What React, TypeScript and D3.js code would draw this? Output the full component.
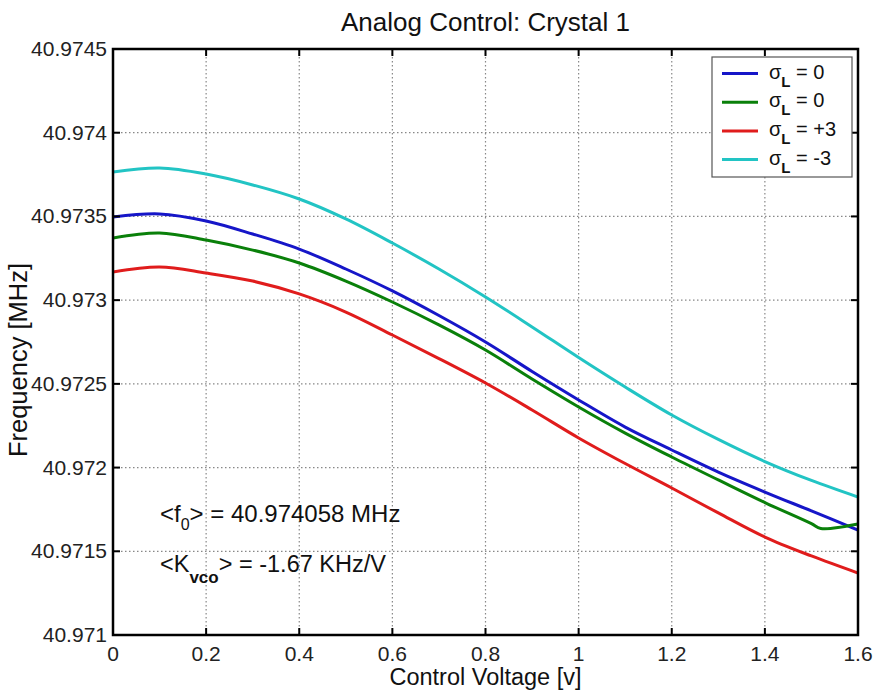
import React from "react";
import * as d3 from "d3";

const voltage = [0, 0.1, 0.2, 0.3, 0.4, 0.5, 0.6, 0.7, 0.8, 0.9, 1.0, 1.1, 1.2, 1.3, 1.4, 1.5, 1.6];
const voltageGreen = [0, 0.1, 0.2, 0.3, 0.4, 0.5, 0.6, 0.7, 0.8, 0.9, 1.0, 1.1, 1.2, 1.3, 1.4, 1.5, 1.52, 1.6];

const blueSeries = [40.973497, 40.973515, 40.973473, 40.973395, 40.973305, 40.973186, 40.973055, 40.972908, 40.97275, 40.972574, 40.972404, 40.972242, 40.972105, 40.971973, 40.971854, 40.971741, 40.971627];
const greenSeries = [40.973371, 40.973401, 40.973359, 40.973299, 40.973222, 40.973114, 40.972989, 40.972852, 40.972702, 40.972529, 40.972362, 40.972206, 40.972063, 40.971926, 40.971791, 40.971665, 40.971636, 40.971663];
const redSeries = [40.973168, 40.973198, 40.973162, 40.973114, 40.973037, 40.972929, 40.972792, 40.972651, 40.972505, 40.972344, 40.972177, 40.972024, 40.971878, 40.971729, 40.971585, 40.971472, 40.97137];
const cyanSeries = [40.973765, 40.973789, 40.973753, 40.973688, 40.973604, 40.973485, 40.973341, 40.973186, 40.973019, 40.97284, 40.972657, 40.972481, 40.972314, 40.972168, 40.972036, 40.971923, 40.971824];

const xTicks = [0, 0.2, 0.4, 0.6, 0.8, 1, 1.2, 1.4, 1.6];
const yTicks = [40.971, 40.9715, 40.972, 40.9725, 40.973, 40.9735, 40.974, 40.9745];
const yTickLabels = ["40.971", "40.9715", "40.972", "40.9725", "40.973", "40.9735", "40.974", "40.9745"];

const legendValues = ["0", "0", "+3", "-3"];
const seriesColors = ["#1616c8", "#0a800a", "#e01c1c", "#22c4c4"];

const W = 877, H = 692;
const L = 113, R = 858, T = 49, B = 635;
const FONT = "'Liberation Sans', Arial, Helvetica, sans-serif";

export default function App() {
  const x = d3.scaleLinear().domain([0, 1.6]).range([L, R]);
  const y = d3.scaleLinear().domain([40.971, 40.9745]).range([B, T]);
  const line = (xs: number[], ys: number[]) =>
    d3.line<number>().x((_, i) => x(xs[i])).y((d) => y(d)).curve(d3.curveCatmullRom.alpha(0.5))(ys) || "";

  const series = [
    { xs: voltage, ys: blueSeries },
    { xs: voltageGreen, ys: greenSeries },
    { xs: voltage, ys: redSeries },
    { xs: voltage, ys: cyanSeries },
  ];

  const legX = 712, legY = 57, legW = 140, legH = 120, rowH = 28.7;

  return (
    <svg width={W} height={H} style={{ position: "absolute", left: 0, top: 0, background: "#fff" }} fontFamily={FONT}>
      <rect x={0} y={0} width={W} height={H} fill="#fff" />
      {/* grid */}
      {xTicks.slice(1, -1).map((t) => (
        <line key={"gx" + t} x1={x(t)} x2={x(t)} y1={T} y2={B} stroke="#888" strokeWidth={1.2} strokeDasharray="1.5,2.5" />
      ))}
      {yTicks.slice(1, -1).map((t) => (
        <line key={"gy" + t} x1={L} x2={R} y1={y(t)} y2={y(t)} stroke="#888" strokeWidth={1.2} strokeDasharray="1.5,2.5" />
      ))}
      {/* curves */}
      <defs>
        <clipPath id="clip">
          <rect x={L} y={T} width={R - L} height={B - T} />
        </clipPath>
      </defs>
      <g clipPath="url(#clip)">
        {series.map((s, i) => (
          <path key={i} d={line(s.xs, s.ys)} fill="none" stroke={seriesColors[i]} strokeWidth={3} strokeLinejoin="round" />
        ))}
      </g>
      {/* ticks */}
      {xTicks.map((t) => (
        <g key={"tx" + t}>
          <line x1={x(t)} x2={x(t)} y1={B} y2={B - 7} stroke="#000" strokeWidth={2} />
          <line x1={x(t)} x2={x(t)} y1={T} y2={T + 7} stroke="#000" strokeWidth={2} />
          <text x={x(t)} y={661} textAnchor="middle" fontSize={21} fill="#222">{String(t)}</text>
        </g>
      ))}
      {yTicks.map((t, i) => (
        <g key={"ty" + t}>
          <line x1={L} x2={L + 7} y1={y(t)} y2={y(t)} stroke="#000" strokeWidth={2} />
          <line x1={R} x2={R - 7} y1={y(t)} y2={y(t)} stroke="#000" strokeWidth={2} />
          <text x={107} y={y(t) + 7} textAnchor="end" fontSize={21} fill="#222">{yTickLabels[i]}</text>
        </g>
      ))}
      {/* axes box */}
      <rect x={L} y={T} width={R - L} height={B - T} fill="none" stroke="#000" strokeWidth={2.5} />
      {/* title & labels */}
      <text x={(L + R) / 2} y={31} textAnchor="middle" fontSize={26} fill="#111">Analog Control: Crystal 1</text>
      <text x={(L + R) / 2} y={685} textAnchor="middle" fontSize={23.5} fill="#111">Control Voltage [v]</text>
      <text transform={`translate(27, 360) rotate(-90)`} textAnchor="middle" fontSize={25.5} fill="#111">Frequency [MHz]</text>
      {/* annotations */}
      <text x={160} y={522} fontSize={24} fill="#111">
        &lt;f<tspan fontSize={16} dy={8}>0</tspan><tspan dy={-8}>&gt; = 40.974058 MHz</tspan>
      </text>
      <text x={160} y={572} fontSize={23.5} fill="#111">
        &lt;K<tspan fontSize={17} fontWeight="bold" dy={11}>vco</tspan><tspan dy={-11}>&gt; = -1.67 KHz/V</tspan>
      </text>
      {/* legend */}
      <rect x={legX} y={legY} width={legW} height={legH} fill="#fff" stroke="#555" strokeWidth={1.2} />
      {legendValues.map((v, i) => {
        const cy = legY + 16.5 + i * rowH;
        return (
          <g key={"lg" + i}>
            <line x1={722} x2={758} y1={cy} y2={cy} stroke={seriesColors[i]} strokeWidth={3} />
            <text x={769} y={cy + 5} fontSize={20} fill="#111">
              σ<tspan fontSize={15} fontWeight="bold" dy={8}>L</tspan><tspan dy={-8}>{" = " + v}</tspan>
            </text>
          </g>
        );
      })}
    </svg>
  );
}
